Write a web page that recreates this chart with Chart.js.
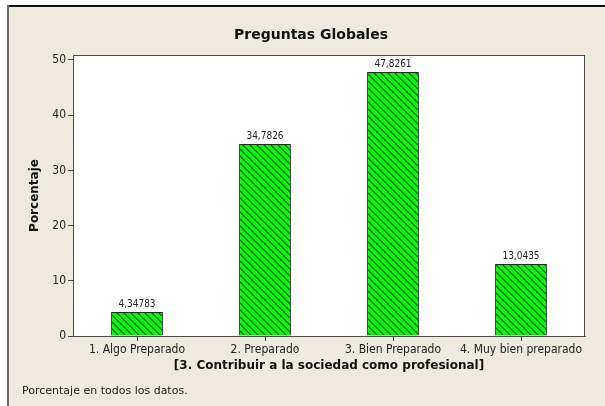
<!DOCTYPE html>
<html>
<head>
<meta charset="utf-8">
<script src="https://cdn.jsdelivr.net/npm/chart.js@4/dist/chart.umd.min.js"></script>
<style>
  html, body { margin: 0; padding: 0; background: #ffffff; }
  #wrap { width: 605px; height: 406px; position: relative; }
</style>
</head>
<body>
<div id="wrap"><canvas id="grafica" width="605" height="406"></canvas></div>
<script>
const categorias = ["1. Algo Preparado", "2. Preparado", "3. Bien Preparado", "4. Muy bien preparado"];
const porcentajes = [4.34783, 34.7826, 47.8261, 13.0435];
const etiquetasValor = ["4,34783", "34,7826", "47,8261", "13,0435"];
const titulo = "Preguntas Globales";
const tituloX = "[3. Contribuir a la sociedad como profesional]";
const tituloY = "Porcentaje";
const nota = "Porcentaje en todos los datos.";

const fuente = "'DejaVu Sans Condensed', 'DejaVu Sans', sans-serif";
const fuenteAncha = "'DejaVu Sans', sans-serif";

// diagonal hatch like the Minitab fill
function hatchPattern() {
    const c = document.createElement("canvas");
    c.width = 7; c.height = 7;
    const g = c.getContext("2d");
    g.fillStyle = "#00ff00";
    g.fillRect(0, 0, 7, 7);
    g.strokeStyle = "#1b5a1b";
    g.lineWidth = 1.3;
    g.beginPath();
    g.moveTo(-1, -1); g.lineTo(8, 8);
    g.moveTo(-1, 6); g.lineTo(1, 8);
    g.moveTo(6, -1); g.lineTo(8, 1);
    g.stroke();
    return g.createPattern(c, "repeat");
}

const ctx = document.getElementById("grafica").getContext("2d");

const marcoPlugin = {
    id: "marco",
    beforeDraw(chart) {
        const c = chart.ctx;
        const a = chart.chartArea;
        c.save();
        c.fillStyle = "#ffffff";
        c.fillRect(0, 0, chart.width, chart.height);
        c.fillStyle = "#eeeae0";
        c.fillRect(9, 7, chart.width - 9, chart.height - 7);
        c.fillStyle = "#111111";
        c.fillRect(8, 5, chart.width - 8, 2);
        c.fillStyle = "#666666";
        c.fillRect(7, 5, 2, chart.height - 5);
        c.fillStyle = "#ffffff";
        c.fillRect(a.left, a.top, a.right - a.left, a.bottom - a.top);
        c.restore();
    },
    afterDraw(chart) {
        const c = chart.ctx;
        const a = chart.chartArea;
        c.save();
        c.strokeStyle = "#4a4a4a";
        c.lineWidth = 1;
        c.strokeRect(a.left + 0.5, a.top + 0.5, a.right - a.left - 1, a.bottom - a.top);
        c.fillStyle = "#111111";
        c.font = "bold 14px " + fuenteAncha;
        c.textAlign = "center";
        c.textBaseline = "middle";
        c.fillText(titulo, 311, 35);
        c.font = "11px " + fuenteAncha;
        c.textAlign = "left";
        c.fillStyle = "#222222";
        c.fillText(nota, 22, 391);
        // value labels above the bars
        const meta = chart.getDatasetMeta(0);
        c.font = "10px " + fuente;
        c.textAlign = "center";
        c.textBaseline = "alphabetic";
        meta.data.forEach((bar, i) => {
            c.fillText(etiquetasValor[i], bar.x, bar.y - 5);
        });
        c.restore();
    }
};

new Chart(ctx, {
    type: 'bar',
    data: {
        labels: categorias,
        datasets: [{
            data: porcentajes,
            backgroundColor: hatchPattern(),
            borderColor: '#1e2e1e',
            borderWidth: 1,
            categoryPercentage: 1,
            barPercentage: 0.405
        }]
    },
    options: {
        responsive: false,
        animation: false,
        events: [],
        layout: { padding: { top: 55, right: 20, bottom: 0, left: 0 } },
        plugins: {
            legend: { display: false },
            tooltip: { enabled: false },
            title: { display: false }
        },
        scales: {
            x: {
                afterFit: (s) => { s.height = 70; },
                grid: { drawOnChartArea: false, offset: false, tickLength: 5, tickColor: '#4a4a4a' },
                border: { color: '#4a4a4a' },
                ticks: { color: '#222222', font: { family: fuente, size: 12 }, maxRotation: 0, autoSkip: false, padding: 2 },
                title: { display: true, text: tituloX, color: '#111111', font: { family: fuenteAncha, size: 12, weight: 'bold' }, padding: { top: 0, bottom: 33 } }
            },
            y: {
                min: 0,
                max: 50.9,
                afterFit: (s) => { s.width = 73; },
                grid: { drawOnChartArea: false, tickLength: 5, tickColor: '#4a4a4a' },
                border: { color: '#4a4a4a' },
                ticks: { stepSize: 10, includeBounds: false, color: '#222222', font: { family: fuente, size: 12 }, padding: 2 },
                title: { display: true, text: tituloY, color: '#111111', font: { family: fuenteAncha, size: 12, weight: 'bold' }, padding: { top: 28, bottom: 0 } }
            }
        }
    },
    plugins: [marcoPlugin]
});
</script>
</body>
</html>
